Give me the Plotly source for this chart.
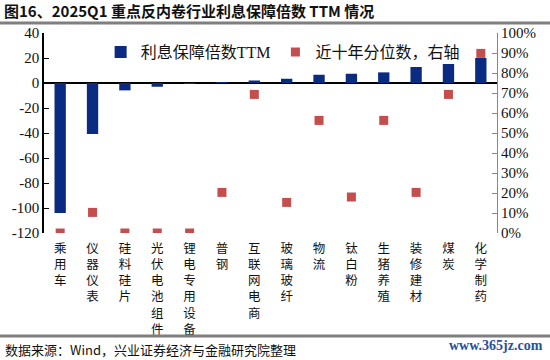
import plotly.graph_objects as go

categories = ["乘用车", "仪器仪表", "硅料硅片", "光伏电池组件", "锂电专用设备", "普钢",
              "互联网电商", "玻璃玻纤", "物流", "钛白粉", "生猪养殖", "装修建材", "煤炭", "化学制药"]
coverage_ttm = [-104.0, -40.8, -5.9, -3.0, -0.2, 0.3, 2.0, 3.4, 6.6, 7.4, 8.5, 12.8, 15.2, 20.0]
percentile_10y = [0.0, 0.103, 0.0, 0.0, 0.0, 0.203, 0.693, 0.153, 0.563, 0.18, 0.563, 0.203, 0.693, 0.898]
left_tickvals = [40, 20, 0, -20, -40, -60, -80, -100, -120]
left_ticktext = ["40", "20", "0", "-20", "-40", "-60", "-80", "-100", "-120"]
right_tickvals = [i / 10 for i in range(11)]
right_ticktext = [f"{i*10}%" for i in range(11)]

xlabels = ["<br>".join(list(c)) for c in categories]

fig = go.Figure()
fig.add_trace(go.Bar(
    x=xlabels, y=coverage_ttm, name="利息保障倍数TTM",
    marker=dict(color="#0B2A82", line=dict(width=0)), width=0.35,
))
fig.add_trace(go.Scatter(
    x=xlabels, y=percentile_10y, name="近十年分位数，右轴", yaxis="y2",
    mode="markers", marker=dict(symbol="square", size=9, color="#C44E4E"),
))

serif = "Liberation Serif, Noto Sans CJK SC"
fig.update_layout(
    width=550, height=360,
    margin=dict(l=44, r=53, t=33, b=127, autoexpand=False),
    paper_bgcolor="white", plot_bgcolor="white",
    showlegend=True,
    legend=dict(orientation="h", x=0.125, y=0.99, xanchor="left", yanchor="top",
                font=dict(family=serif, size=16, color="#111"),
                bgcolor="rgba(0,0,0,0)", itemwidth=30, tracegroupgap=0,
                traceorder="normal"),
    xaxis=dict(showline=False, ticks="", tickangle=0, automargin=False,
               ticklabelstandoff=6,
               tickfont=dict(family="Noto Sans CJK SC", size=12.5, color="#111"),
               range=[-0.5, len(categories) - 0.5]),
    yaxis=dict(range=[-120, 40], tickvals=left_tickvals, ticktext=left_ticktext,
               showgrid=False, showline=True, linecolor="black", linewidth=1.5,
               ticks="inside", ticklen=5, tickcolor="black", automargin=False,
               zeroline=True, zerolinecolor="black", zerolinewidth=1.5,
               tickfont=dict(family="Liberation Serif", size=15, color="#111")),
    yaxis2=dict(range=[0, 1], tickvals=right_tickvals, ticktext=right_ticktext,
                overlaying="y", side="right", showgrid=False, showline=True,
                linecolor="#888", linewidth=1.2, ticks="inside", ticklen=5,
                tickcolor="#888", zeroline=False, automargin=False,
                tickfont=dict(family="Liberation Serif", size=15, color="#111")),
    font=dict(family="Noto Sans CJK SC"),
)

# decorative rules (title underline and footer line)
fig.add_shape(type="line", xref="paper", yref="paper", x0=-0.1, x1=1.12,
              y0=(233 - 23) / 200, y1=(233 - 23) / 200, line=dict(color="#7f7f7f", width=3))
fig.add_shape(type="line", xref="paper", yref="paper", x0=-0.1, x1=1.12,
              y0=(233 - 336) / 200, y1=(233 - 336) / 200, line=dict(color="#7f7f7f", width=3))

fig.add_annotation(text="<b>图16、2025Q1 重点反内卷行业利息保障倍数 TTM 情况</b>",
                   xref="paper", yref="paper", x=(2 - 44) / 453, y=(233 - 11) / 200,
                   xanchor="left", yanchor="middle", showarrow=False,
                   font=dict(family="Noto Sans CJK SC", size=15, color="#111"))
fig.add_annotation(text="数据来源：Wind，兴业证券经济与金融研究院整理",
                   xref="paper", yref="paper", x=(3 - 44) / 453, y=(233 - 349) / 200,
                   xanchor="left", yanchor="middle", showarrow=False,
                   font=dict(family="Noto Sans CJK SC", size=13, color="#111"))
fig.add_annotation(text="<b>www.365jz.com</b>",
                   xref="paper", yref="paper", x=(545 - 44) / 453, y=(233 - 345) / 200,
                   xanchor="right", yanchor="middle", showarrow=False,
                   font=dict(family="Liberation Serif", size=14, color="#2A4F9E"))

fig.write_html("out.html", config={"displayModeBar": False},
               post_script="document.body.style.margin='0';document.body.style.padding='0';")
